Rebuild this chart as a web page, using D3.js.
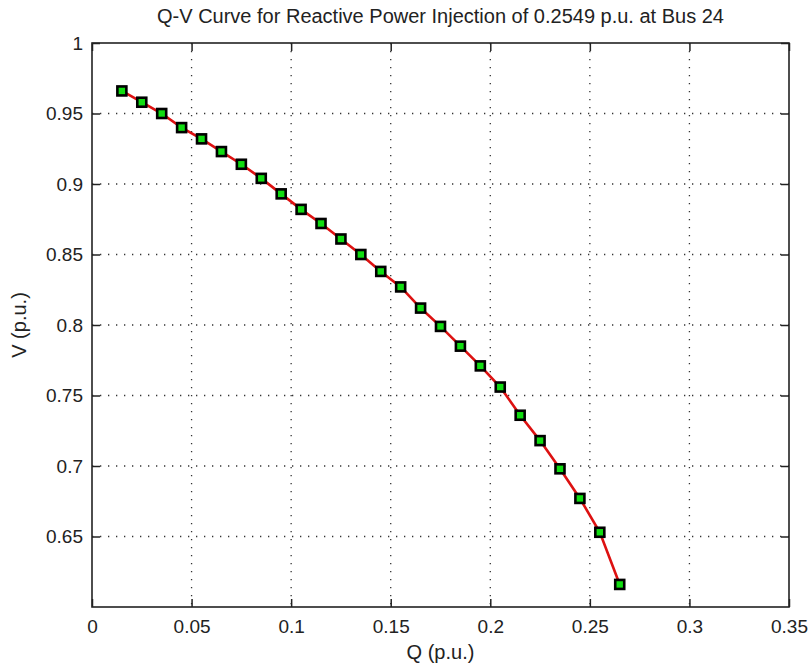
<!DOCTYPE html>
<html>
<head>
<meta charset="utf-8">
<script src="https://cdn.jsdelivr.net/npm/d3@7"></script>
<style>
  body { margin: 0; background: #fff; }
  text { font-family: "Liberation Sans", Arial, sans-serif; fill: #222; }
</style>
</head>
<body>
<div id="chart"></div>
<script>
// Q-V curve data
const qValues = [0.015, 0.025, 0.035, 0.045, 0.055, 0.065, 0.075, 0.085, 0.095, 0.105,
                 0.115, 0.125, 0.135, 0.145, 0.155, 0.165, 0.175, 0.185, 0.195, 0.205,
                 0.215, 0.225, 0.235, 0.245, 0.255, 0.265];
const vValues = [0.966, 0.958, 0.950, 0.940, 0.932, 0.923, 0.914, 0.904, 0.893, 0.882,
                 0.872, 0.861, 0.850, 0.838, 0.827, 0.812, 0.799, 0.785, 0.771, 0.756,
                 0.736, 0.718, 0.698, 0.677, 0.653, 0.616];
const xTicks = [0, 0.05, 0.1, 0.15, 0.2, 0.25, 0.3, 0.35];
const yTicks = [0.65, 0.7, 0.75, 0.8, 0.85, 0.9, 0.95, 1];
const xTickLabels = ["0", "0.05", "0.1", "0.15", "0.2", "0.25", "0.3", "0.35"];
const yTickLabels = ["0.65", "0.7", "0.75", "0.8", "0.85", "0.9", "0.95", "1"];

const W = 811, H = 669;
const margin = {left: 92, top: 43, right: 22, bottom: 62};
const w = W - margin.left - margin.right;
const h = H - margin.top - margin.bottom;

const svg = d3.select('#chart').append('svg')
    .attr('width', W)
    .attr('height', H);

const x = d3.scaleLinear().domain([0, 0.35]).range([0, w]);
const y = d3.scaleLinear().domain([0.6, 1]).range([h, 0]);

const g = svg.append('g')
    .attr('transform', `translate(${margin.left},${margin.top})`);

g.append('rect')
    .attr('width', w).attr('height', h)
    .attr('fill', '#fff');

// dotted grid
g.selectAll('.vgrid')
    .data(xTicks.slice(1, -1))
    .join('line')
    .attr('x1', d => x(d)).attr('x2', d => x(d))
    .attr('y1', 0).attr('y2', h)
    .attr('stroke', '#333').attr('stroke-width', 1.3)
    .attr('stroke-dasharray', '1.3,6.7');
g.selectAll('.hgrid')
    .data(yTicks.filter(d => d < 1))
    .join('line')
    .attr('x1', 0).attr('x2', w)
    .attr('y1', d => y(d)).attr('y2', d => y(d))
    .attr('stroke', '#333').attr('stroke-width', 1.3)
    .attr('stroke-dasharray', '1.3,6.7');

// axes (ticks inside, on all four sides)
const tickLen = 8;
const xAxis = d3.axisBottom(x).tickValues(xTicks).tickSize(-tickLen).tickPadding(13)
    .tickFormat((d, i) => xTickLabels[i]);
const yAxis = d3.axisLeft(y).tickValues(yTicks).tickSize(-tickLen).tickPadding(14)
    .tickFormat((d, i) => yTickLabels[i]);

const gx = g.append('g').attr('transform', `translate(0,${h})`).call(xAxis);
const gy = g.append('g').call(yAxis);
g.append('g').call(d3.axisTop(x).tickValues(xTicks).tickSize(-tickLen).tickFormat(''));
g.append('g').attr('transform', `translate(${w},0)`)
    .call(d3.axisRight(y).tickValues(yTicks).tickSize(-tickLen).tickFormat(''));

g.selectAll('.domain').remove();
g.selectAll('.tick line').attr('stroke', '#222').attr('stroke-width', 1.5);
g.selectAll('.tick text').attr('font-size', 19).attr('fill', '#222')
    .style('font-family', '"Liberation Sans", Arial, sans-serif');
gx.selectAll('.tick text').attr('dy', '0.71em');
gy.selectAll('.tick text').attr('dx', '5');

g.append('rect')
    .attr('width', w).attr('height', h)
    .attr('fill', 'none')
    .attr('stroke', '#222').attr('stroke-width', 1.6);

// curve
const pts = qValues.map((q, i) => [q, vValues[i]]);
const line = d3.line().x(d => x(d[0])).y(d => y(d[1]));

g.append('path')
    .datum(pts)
    .attr('d', line)
    .attr('fill', 'none')
    .attr('stroke', '#dd1111')
    .attr('stroke-width', 2.6);

const ms = 9;
g.selectAll('.marker')
    .data(pts)
    .join('rect')
    .attr('x', d => x(d[0]) - ms / 2)
    .attr('y', d => y(d[1]) - ms / 2)
    .attr('width', ms).attr('height', ms)
    .attr('fill', '#11dd11')
    .attr('stroke', '#000')
    .attr('stroke-width', 2.6);

// labels
svg.append('text')
    .attr('x', margin.left + w / 2).attr('y', 23)
    .attr('text-anchor', 'middle')
    .attr('font-size', 20)
    .text('Q-V Curve for Reactive Power Injection of 0.2549 p.u. at Bus 24');

svg.append('text')
    .attr('x', margin.left + w / 2).attr('y', 659)
    .attr('text-anchor', 'middle')
    .attr('font-size', 20)
    .text('Q (p.u.)');

svg.append('text')
    .attr('transform', `translate(26,${margin.top + h / 2}) rotate(-90)`)
    .attr('text-anchor', 'middle')
    .attr('font-size', 20)
    .text('V (p.u.)');
</script>
</body>
</html>
